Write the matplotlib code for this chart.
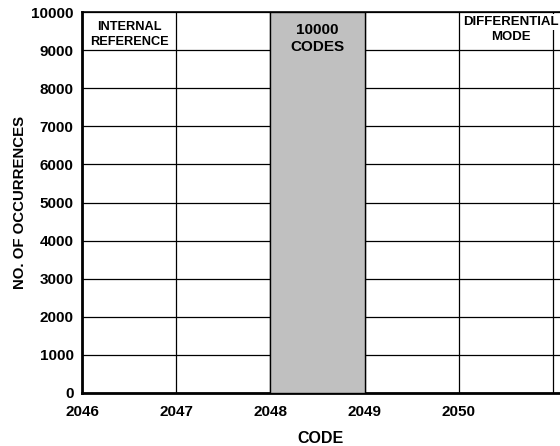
import matplotlib.pyplot as plt
import numpy as np

plt.rcParams['font.family'] = ['Liberation Sans', 'DejaVu Sans']
plt.rcParams['font.weight'] = 'bold'
plt.rcParams['axes.labelweight'] = 'bold'

codes = [2048]
counts = [10000]
x_ticks = [2046, 2047, 2048, 2049, 2050]
y_ticks = list(range(0, 10001, 1000))

fig = plt.figure(figsize=(5.6, 4.46), dpi=100)
ax = fig.add_axes([82 / 560, 53 / 446, 1 - 82 / 560, (393 - 12) / 446])

ax.bar(codes, counts, width=1, align='edge', color='#c0c0c0',
       edgecolor='black', linewidth=1.0, zorder=3)

ax.set_xlim(2046, 2046 + 478 / 94.2)
ax.set_ylim(0, 10000)
ax.set_xticks(x_ticks)
ax.set_yticks(y_ticks)
ax.set_xticks([2051], minor=True)
ax.tick_params(which='both', length=0, labelsize=11)
ax.tick_params(axis='x', pad=9)
ax.tick_params(axis='y', pad=6)
for lab in ax.get_xticklabels() + ax.get_yticklabels():
    lab.set_fontweight('bold')
ax.grid(True, which='both', color='black', linewidth=0.9, zorder=1)

for side in ['top', 'right']:
    ax.spines[side].set_visible(False)
ax.spines['left'].set_linewidth(2)
ax.spines['bottom'].set_linewidth(2)
ax.axhline(10000, color='black', linewidth=1.2, zorder=2, clip_on=False)

ax.set_xlabel('CODE', fontsize=11.5, fontweight=900, labelpad=8)
ax.set_ylabel('NO. OF OCCURRENCES', fontsize=10.8, fontweight=900, labelpad=3)

ax.text(2046.5, 9600, 'INTERNAL', ha='center', va='center',
        fontsize=9.2, fontweight='bold', zorder=4)
ax.text(2046.5, 9220, 'REFERENCE', ha='center', va='center',
        fontsize=9.2, fontweight='bold', zorder=4)
ax.text(2048.5, 9520, '10000', ha='center', va='center',
        fontsize=11, fontweight='bold', zorder=4)
ax.text(2048.5, 9090, 'CODES', ha='center', va='center',
        fontsize=11, fontweight='bold', zorder=4)
ax.text(2050.55, 9740, 'DIFFERENTIAL', ha='center', va='center',
        fontsize=9.5, fontweight='bold', zorder=4,
        bbox=dict(facecolor='white', edgecolor='none', pad=1.5))
ax.text(2050.55, 9340, 'MODE', ha='center', va='center',
        fontsize=9.5, fontweight='bold', zorder=4)

fig.savefig('out.png', dpi=100)
